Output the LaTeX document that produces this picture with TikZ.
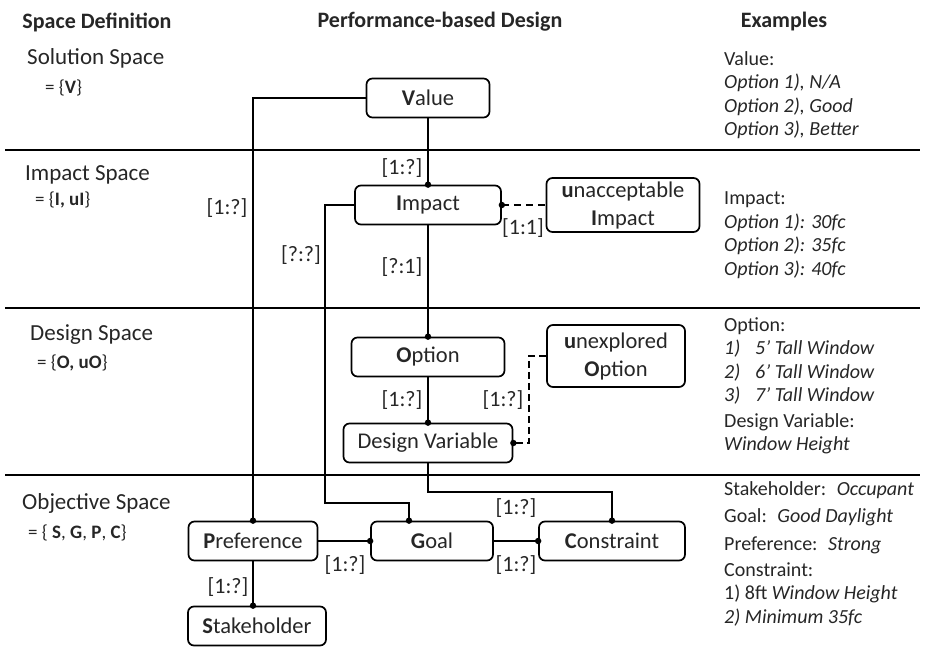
\documentclass[tikz,border=0pt]{standalone}
\usepackage{fontspec}
\setmainfont{Carlito}

\tikzset{
	box/.style={draw, rounded corners=6pt, line width=1.7pt, inner sep=2pt,
		minimum height=39pt, align=center, font=\fontsize{22.5}{28}\selectfont},
	lbl/.style={inner sep=0pt, font=\fontsize{22}{26}\selectfont},
	hdr/.style={inner sep=0pt, font=\fontsize{22}{26}\selectfont\bfseries},
	side/.style={inner sep=0pt, anchor=west, font=\fontsize{23}{27}\selectfont},
	sideset/.style={inner sep=0pt, anchor=west, font=\fontsize{19}{23}\selectfont},
	ex/.style={inner sep=0pt, anchor=west, align=left, font=\fontsize{20}{23.5}\selectfont},
	link/.style={line width=1.7pt},
	sep/.style={line width=1.7pt},
}

\begin{document}
\begin{tikzpicture}[x=1pt, y=-1pt, text=black!85]
	\useasboundingbox (0,0) rectangle (925,659);

	% headings
	\node[hdr] (hsd) at (97,22) {Space Definition};
	\node[hdr] (hpd) at (440,22) {Performance-based Design};
	\node[hdr] (hex) at (784,22) {Examples};

	% section lines
	\draw[sep] (5,150) -- (920,150);
	\draw[sep] (5,308) -- (920,308);
	\draw[sep] (5,475) -- (920,475);

	% spaces
	\node[side] (sol) at (27,58) {Solution Space};
	\node[sideset] (solset) at (45,88) {= \{\textbf{V}\}};
	\node[side] (isp) at (25,175) {Impact Space};
	\node[sideset] (ispset) at (35,200) {= \{\textbf{I, uI}\}};
	\node[side] (dsp) at (30,335) {Design Space};
	\node[sideset] (dspset) at (37,363) {= \{\textbf{O, uO}\}};
	\node[side] (osp) at (22,503) {Objective Space};
	\node[sideset] (ospset) at (28,533) {= \{ \textbf{S}, \textbf{G}, \textbf{P}, \textbf{C}\}};

	% boxes
	\node[box, minimum width=123pt] (val) at (428,98) {\textbf{V}alue};
	\node[box, minimum width=146pt] (imp) at (428,205) {\textbf{I}mpact};
	\node[box, minimum width=153pt, minimum height=54pt] (uimp) at (623,205) {\textbf{u}nacceptable\\\textbf{I}mpact};
	\node[box, minimum width=153pt] (opt) at (428,357) {\textbf{O}ption};
	\node[box, minimum width=138pt, minimum height=62pt] (uopt) at (616,356) {\textbf{u}nexplored\\\textbf{O}ption};
	\node[box, minimum width=169pt] (dv) at (428,443) {Design Variable};
	\node[box, minimum width=129pt] (pref) at (253,541) {\textbf{P}reference};
	\node[box, minimum width=122pt] (goal) at (432,541) {\textbf{G}oal};
	\node[box, minimum width=146pt] (con) at (612,541) {\textbf{C}onstraint};
	\node[box, minimum width=138pt] (stk) at (257,626) {\textbf{S}takeholder};

	% bends
	\coordinate (gbend) at (325,503);
	\coordinate (gin) at ([xshift=-23pt]goal.north);
	\coordinate (cbend) at (428,492);
	\coordinate (obend) at (529,356);
	\coordinate (sin) at (pref.south |- stk.north);

	% connectors
	\draw[link] (val.west) -| (pref.north);
	\draw[link] (val.south) -- (imp.north);
	\draw[link] (imp.south) -- (opt.north);
	\draw[link] (opt.south) -- (dv.north);
	\draw[link] (imp.west) -| (gbend) -| (gin);
	\draw[link] (dv.south) -- (cbend) -| (con.north);
	\draw[link] (pref.east) -- (goal.west);
	\draw[link] (goal.east) -- (con.west);
	\draw[link] (pref.south) -- (sin);
	\draw[link, dash pattern=on 7pt off 5pt] (imp.east) -- (uimp.west);
	\draw[link, dash pattern=on 7pt off 4pt] (uopt.west) -- (obend) |- (dv.east);

	% dots
	\foreach \p in {imp.north, opt.north, dv.north, imp.east, dv.east,
		pref.north, gin, con.north, goal.west, con.west, sin}
		\fill (\p) circle (3.2pt);

	% cardinalities
	\node[lbl] (c1) at (227,208) {[1:?]};
	\node[lbl] (c2) at (301,255) {[?:?]};
	\node[lbl] (c3) at (402,168) {[1:?]};
	\node[lbl] (c4) at (402,267) {[?:1]};
	\node[lbl] (c5) at (523,228) {[1:1]};
	\node[lbl] (c6) at (402,400) {[1:?]};
	\node[lbl] (c7) at (503,400) {[1:?]};
	\node[lbl] (c8) at (516,508) {[1:?]};
	\node[lbl] (c9) at (345,565) {[1:?]};
	\node[lbl] (c10) at (516,565) {[1:?]};
	\node[lbl] (c11) at (228,587) {[1:?]};

	% examples
	\node[ex] (exv) at (724,95) {Value:\\\textit{Option 1), N/A}\\\textit{Option 2), Good}\\\textit{Option 3), Better}};
	\node[ex] (exi) at (724,235) {Impact:\\\textit{Option 1): 30fc}\\\textit{Option 2): 35fc}\\\textit{Option 3): 40fc}};
	\node[ex] (exo) at (724,361) {Option:\\\makebox[31pt][l]{\textit{1)}}\textit{5’ Tall Window}\\\makebox[31pt][l]{\textit{2)}}\textit{6’ Tall Window}\\\makebox[31pt][l]{\textit{3)}}\textit{7’ Tall Window}};
	\node[ex] (exd) at (724,434) {Design Variable:\\\textit{Window Height}};
	\node[ex] (exs) at (724,490) {Stakeholder:~ \textit{Occupant}};
	\node[ex] (exg) at (724,517) {Goal:~ \textit{Good Daylight}};
	\node[ex] (exp) at (724,545) {Preference:~ \textit{Strong}};
	\node[ex] (exc) at (724,594) {Constraint:\\1) 8ft \textit{Window Height}\\\textit{2) Minimum 35fc}};
\end{tikzpicture}
\end{document}
